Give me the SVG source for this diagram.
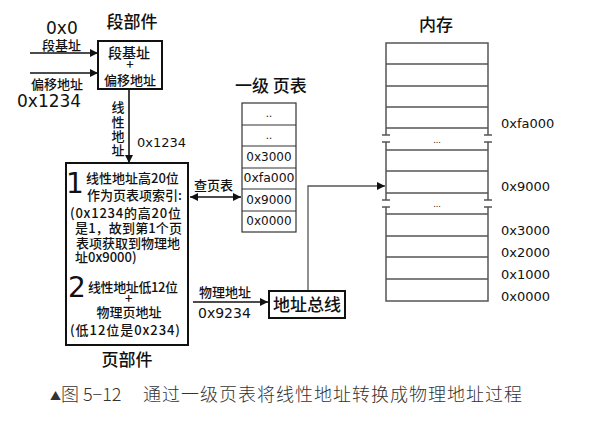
<svg xmlns="http://www.w3.org/2000/svg" width="598" height="424" viewBox="0 0 598 424">
<style>
.cj{font-family:"Noto Sans CJK SC",sans-serif;font-weight:500;fill:#111}
.la{font-family:"DejaVu Sans","Noto Sans CJK SC",sans-serif;fill:#111}
.box{fill:#fff;stroke:#111;stroke-width:2}
.mem{fill:none;stroke:#555;stroke-width:1.5}
.pt{fill:#fff;stroke:#333;stroke-width:1.2}
.ln{fill:none;stroke:#111;stroke-width:1.6}
.gl{fill:none;stroke:#555;stroke-width:1.3}
.cap{font-family:"Noto Sans CJK SC",sans-serif;font-weight:300;fill:#333}
</style>
<defs>
<marker id="ah" viewBox="0 0 10 10" refX="10" refY="5" markerWidth="9" markerHeight="8" markerUnits="userSpaceOnUse" orient="auto-start-reverse">
<path d="M0,0 L10,5 L0,10 z" fill="#111"/>
</marker>
</defs>
<rect width="598" height="424" fill="#fff"/>

<g id="connectors">
<line class="ln" x1="30" y1="53" x2="98" y2="53" marker-end="url(#ah)"/>
<line class="ln" x1="30" y1="73" x2="98" y2="73" marker-end="url(#ah)"/>
<line class="ln" x1="129" y1="89" x2="129" y2="163" marker-end="url(#ah)"/>
<line class="ln" x1="190" y1="197" x2="241" y2="197" marker-start="url(#ah)" marker-end="url(#ah)"/>
<line class="ln" x1="193" y1="302" x2="268" y2="302" marker-end="url(#ah)"/>
<polyline class="gl" points="308,291 308,186 385,186" marker-end="url(#ah)"/>
</g>

<g id="seg-labels">
<text class="la" x="46" y="34" font-size="17">0x0</text>
<text class="cj" x="42" y="50" font-size="13">段基址</text>
<text class="cj" x="31" y="89" font-size="13">偏移地址</text>
<text class="la" x="17" y="107" font-size="17">0x1234</text>
</g>

<g id="segment-unit">
<text class="cj" x="132" y="28" font-size="17" text-anchor="middle">段部件</text>
<rect class="box" x="98" y="41" width="64" height="48"/>
<text class="cj" text-anchor="middle" font-size="13"><tspan x="129" y="58" font-size="14">段基址</tspan><tspan x="130" y="69">+</tspan><tspan x="130" y="85">偏移地址</tspan></text>
</g>

<g id="linear-label">
<text class="cj" x="118" y="101" font-size="13" writing-mode="tb" letter-spacing="1.3">线性地址</text>
<text class="la" x="137" y="147" font-size="13">0x1234</text>
</g>

<g id="page-unit">
<rect class="box" x="66" y="163" width="122" height="182"/>
<text class="la" x="66" y="193" font-size="28">1</text>
<text class="cj" font-size="13"><tspan x="86" y="183">线性地址高20位</tspan><tspan x="87" y="200">作为页表项索引:</tspan><tspan x="70" y="218" textLength="111">(0x1234的高20位</tspan><tspan x="75" y="233" textLength="107">是1，故到第1个页</tspan><tspan x="76" y="248">表项获取到物理地</tspan><tspan x="75" y="262">址0x9000)</tspan></text>
<text class="la" x="68" y="297" font-size="28">2</text>
<text class="cj" font-size="13"><tspan x="88" y="292" textLength="90">线性地址低12位</tspan><tspan x="125" y="303">+</tspan><tspan x="96.5" y="317">物理页地址</tspan><tspan x="70" y="335" textLength="110">(低12位是0x234)</tspan></text>
<text class="cj" x="127" y="366" font-size="17" text-anchor="middle">页部件</text>
</g>

<g id="lookup-label">
<text class="cj" x="194" y="190" font-size="13">查页表</text>
</g>

<g id="page-table">
<text class="cj" x="235" y="92" font-size="17">一级 页表</text>
<rect class="pt" x="242" y="103" width="54" height="129"/>
<line class="pt" x1="242" y1="125" x2="296" y2="125"/>
<line class="pt" x1="242" y1="146" x2="296" y2="146"/>
<line class="pt" x1="242" y1="168" x2="296" y2="168"/>
<line class="pt" x1="242" y1="189" x2="296" y2="189"/>
<line class="pt" x1="242" y1="211" x2="296" y2="211"/>
<text class="la" x="269" y="117" font-size="10" text-anchor="middle">..</text>
<text class="la" x="269" y="139" font-size="10" text-anchor="middle">..</text>
<text class="la" x="269" y="161" font-size="12" text-anchor="middle">0x3000</text>
<text class="la" x="269" y="182" font-size="12" text-anchor="middle" textLength="51" lengthAdjust="spacingAndGlyphs">0xfa000</text>
<text class="la" x="269" y="204" font-size="12" text-anchor="middle">0x9000</text>
<text class="la" x="269" y="225" font-size="12" text-anchor="middle">0x0000</text>
</g>

<g id="phys-label">
<text class="cj" x="199" y="297" font-size="13">物理地址</text>
<text class="la" x="198" y="318" font-size="14">0x9234</text>
</g>

<g id="address-bus">
<rect class="box" x="269" y="291" width="76" height="27" stroke-width="2.2"/>
<text class="cj" x="307" y="311" font-size="17" text-anchor="middle">地址总线</text>
</g>

<g id="memory">
<text class="cj" x="419" y="31" font-size="17">内存</text>
<polyline class="mem" points="386,135 386,43 488,43 488,135"/>
<line class="mem" x1="386" y1="64" x2="488" y2="64"/>
<line class="mem" x1="386" y1="86" x2="488" y2="86"/>
<line class="mem" x1="386" y1="107" x2="488" y2="107"/>
<line class="mem" x1="386" y1="128" x2="488" y2="128"/>
<line class="mem" x1="382" y1="135" x2="390" y2="135"/>
<line class="mem" x1="382" y1="142" x2="390" y2="142"/>
<line class="mem" x1="484" y1="135" x2="492" y2="135"/>
<line class="mem" x1="484" y1="142" x2="492" y2="142"/>
<text class="la" x="437" y="143" font-size="8" text-anchor="middle" fill="#555">...</text>
<line class="mem" x1="386" y1="142" x2="386" y2="200"/>
<line class="mem" x1="488" y1="142" x2="488" y2="200"/>
<line class="mem" x1="386" y1="150" x2="488" y2="150"/>
<line class="mem" x1="386" y1="171" x2="488" y2="171"/>
<line class="mem" x1="386" y1="193" x2="488" y2="193"/>
<line class="mem" x1="382" y1="200" x2="390" y2="200"/>
<line class="mem" x1="382" y1="207" x2="390" y2="207"/>
<line class="mem" x1="484" y1="200" x2="492" y2="200"/>
<line class="mem" x1="484" y1="207" x2="492" y2="207"/>
<text class="la" x="437" y="207" font-size="8" text-anchor="middle" fill="#555">...</text>
<polyline class="mem" points="386,207 386,301 488,301 488,207"/>
<line class="mem" x1="386" y1="214" x2="488" y2="214"/>
<line class="mem" x1="386" y1="236" x2="488" y2="236"/>
<line class="mem" x1="386" y1="257" x2="488" y2="257"/>
<line class="mem" x1="386" y1="279" x2="488" y2="279"/>
<text class="la" x="501" y="128" font-size="13">0xfa000</text>
<text class="la" x="501" y="191" font-size="13">0x9000</text>
<text class="la" x="501" y="235" font-size="13">0x3000</text>
<text class="la" x="501" y="257" font-size="13">0x2000</text>
<text class="la" x="501" y="279" font-size="13">0x1000</text>
<text class="la" x="501" y="301" font-size="13">0x0000</text>
</g>

<g id="caption">
<text class="cap" x="50" y="400" font-size="11">▲</text>
<text class="cap" x="61" y="401" font-size="18">图 5−12</text>
<text class="cap" x="143" y="401" font-size="18" textLength="379">通过一级页表将线性地址转换成物理地址过程</text>
</g>
</svg>
